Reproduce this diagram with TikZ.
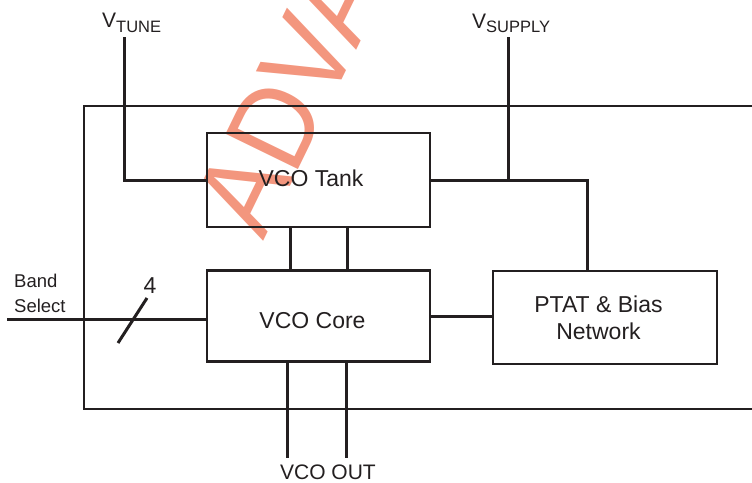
\documentclass[tikz,border=0pt]{standalone}
\usepackage{fontspec}
\setmainfont{Liberation Sans}
\newfontfamily\wmfont[FakeStretch=0.92]{Liberation Sans}
\definecolor{ink}{HTML}{231F20}
\definecolor{wmc}{RGB}{243,150,126}
\begin{document}
\begin{tikzpicture}[x=1pt,y=-1pt,
  wire/.style={line width=3pt, draw=ink},
  blk/.style={draw=ink, line width=2.8pt, rectangle, inner sep=0pt, align=center,
    font=\fontsize{23}{27}\selectfont, text=ink},
  chipbox/.style={draw=ink, line width=2.6pt, rectangle, inner sep=0pt},
  lbl/.style={inner sep=0pt, text=ink},
  wm/.style={inner sep=0pt, text=wmc, rotate=64, anchor=base west,
    font=\wmfont\fontsize{117}{117}\selectfont},
]
\useasboundingbox (0,0) rectangle (752,482);
% watermark
\node[wm] (wmark) at (263,242) {ADVANCE};
% chip outline (right side beyond the page)
\node[chipbox, minimum width=696pt, minimum height=303pt] (chip) at (432,257.5) {};
% blocks
\node[blk, minimum width=223pt, minimum height=94pt] (tank) at (318.5,180) {};
\node[lbl, font=\fontsize{23}{27}\selectfont] (tanktxt) at (311,178) {VCO Tank};
\node[blk, minimum width=223pt, minimum height=91pt] (core) at (318.5,316) {};
\node[lbl, font=\fontsize{23}{27}\selectfont] (coretxt) at (312.5,321) {VCO Core};
\node[blk, minimum width=224pt, minimum height=93pt] (ptat) at (605,317.5) {};
\node[lbl, font=\fontsize{23}{27}\selectfont, anchor=base] (ptattxt1) at (598.5,312) {PTAT \& Bias};
\node[lbl, font=\fontsize{23}{27}\selectfont, anchor=base] (ptattxt2) at (598.5,339) {Network};
% external terminals
\coordinate (vt) at (124,37);
\coordinate (vs) at (508,37);
\coordinate (bs) at (7,319);
\coordinate (o1) at (287,458);
\coordinate (o2) at (346,458);
\coordinate (sl1) at (118,343);
\coordinate (sl2) at (147,298);
% labels
\node[lbl, anchor=base west] (vtl) at (102,27)
  {{\fontsize{21}{21}\selectfont V}\raisebox{-5pt}{\fontsize{16.5}{16.5}\selectfont TUNE}};
\node[lbl, anchor=base west] (vsl) at (472,28)
  {{\fontsize{21}{21}\selectfont V}\raisebox{-4pt}{\fontsize{16.5}{16.5}\selectfont SUPPLY}};
\node[lbl, anchor=base west, font=\fontsize{18.5}{22}\selectfont] (band1) at (14,287) {Band};
\node[lbl, anchor=base west, font=\fontsize{18.5}{22}\selectfont] (band2) at (14,312) {Select};
\node[lbl, anchor=base, font=\fontsize{23}{23}\selectfont] (four) at (150,293) {4};
\node[lbl, anchor=base, font=\fontsize{21}{21}\selectfont] (outl) at (328,479) {VCO OUT};
% connectors
\draw[wire] (vt) |- (tank.west);
\draw[wire] (vs) -- (vs |- tank.east);
\draw[wire] (tank.east) -| ([xshift=-18pt]ptat.north);
\draw[wire] ([xshift=-28.5pt]tank.south) -- ([xshift=-28.5pt]core.north);
\draw[wire] ([xshift=28.5pt]tank.south) -- ([xshift=28.5pt]core.north);
\draw[wire] (core.east) -- (core.east -| ptat.west);
\draw[wire] (bs) -- (bs -| core.west);
\draw[wire] (sl1) -- (sl2);
\draw[wire] (core.south -| o1) -- (o1);
\draw[wire] (core.south -| o2) -- (o2);
\end{tikzpicture}
\end{document}
